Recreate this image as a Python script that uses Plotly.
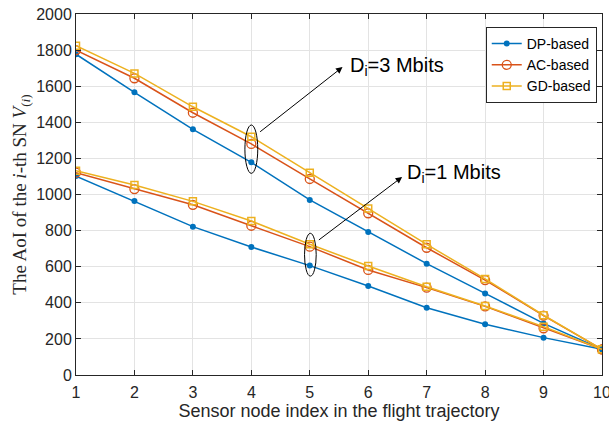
import plotly.graph_objects as go

nodes = [1, 2, 3, 4, 5, 6, 7, 8, 9, 10]

dp_3m = [1777, 1566, 1361, 1178, 970, 792, 617, 452, 286, 142]
ac_3m = [1800, 1644, 1453, 1280, 1086, 896, 705, 526, 329, 142]
gd_3m = [1824, 1671, 1486, 1320, 1121, 923, 724, 532, 331, 142]

dp_1m = [1102, 964, 822, 709, 606, 493, 373, 281, 207, 142]
ac_1m = [1121, 1030, 943, 827, 711, 582, 484, 380, 259, 142]
gd_1m = [1132, 1053, 962, 853, 724, 604, 489, 382, 268, 142]

series_names = ["DP-based", "AC-based", "GD-based"]
colors = ["#0072BD", "#D95319", "#EDB120"]
x_ticks = list(range(1, 11))
y_ticks = list(range(0, 2001, 200))

markers = [
    dict(symbol="circle", size=6, color=colors[0], line=dict(width=0)),
    dict(symbol="circle-open", size=9, color=colors[1], line=dict(width=1.3)),
    dict(symbol="square-open", size=7, color=colors[2], line=dict(width=1.5)),
]

fig = go.Figure()
groups = [(dp_3m, ac_3m, gd_3m), (dp_1m, ac_1m, gd_1m)]
for gi, grp in enumerate(groups):
    for si, vals in enumerate(grp):
        fig.add_trace(go.Scatter(
            x=nodes, y=vals, mode="lines+markers",
            name=series_names[si], legendgroup=series_names[si],
            showlegend=(gi == 0),
            line=dict(color=colors[si], width=1.5),
            marker=markers[si],
        ))

# ellipses
fig.add_shape(type="circle", xref="x", yref="y", x0=3.89, x1=4.11, y0=1117, y1=1385,
              line=dict(color="black", width=1))
fig.add_shape(type="circle", xref="x", yref="y", x0=4.91, x1=5.11, y0=548, y1=785,
              line=dict(color="black", width=1))

# arrows
fig.add_annotation(x=5.56, y=1706, ax=4.125, ay=1341, xref="x", yref="y", axref="x", ayref="y",
                   text="", showarrow=True, arrowhead=2, arrowsize=1.3, arrowwidth=1, arrowcolor="black")
fig.add_annotation(x=6.58, y=1097, ax=5.13, ay=742, xref="x", yref="y", axref="x", ayref="y",
                   text="", showarrow=True, arrowhead=2, arrowsize=1.3, arrowwidth=1, arrowcolor="black")
fig.add_annotation(x=5.66, y=1710, xref="x", yref="y", text="D<sub>i</sub>=3 Mbits", showarrow=False,
                   xanchor="left", yanchor="middle",
                   font=dict(family="Liberation Sans, Arial", size=20, color="black"))
fig.add_annotation(x=6.63, y=1118, xref="x", yref="y", text="D<sub>i</sub>=1 Mbits", showarrow=False,
                   xanchor="left", yanchor="middle",
                   font=dict(family="Liberation Sans, Arial", size=20, color="black"))

axis_common = dict(
    showline=True, linecolor="#262626", linewidth=1, mirror="ticks",
    ticks="inside", ticklen=5, tickcolor="#262626",
    showgrid=True, gridcolor="#E3E3E3", gridwidth=1, zeroline=False,
    ticklabeloverflow="allow",
    tickfont=dict(family="Liberation Sans, Arial", size=16, color="#262626"),
)

fig.update_xaxes(range=[1, 10], tickvals=x_ticks, automargin=False, ticklabelstandoff=3,
                 title=dict(text="Sensor node index in the flight trajectory",
                            font=dict(family="Liberation Sans, Arial", size=18, color="#262626"),
                            standoff=2),
                 **axis_common)
fig.update_yaxes(range=[0, 2000], tickvals=y_ticks, automargin=False,
                 title=dict(text="The AoI of the <i>i</i>-th SN <i>V</i><sub>(<i>i</i>)</sub>",
                            font=dict(family="Liberation Serif, Times New Roman", size=19, color="#262626"),
                            standoff=4),
                 **axis_common)

fig.update_layout(
    width=609, height=425,
    margin=dict(l=76, r=7, t=14, b=50),
    plot_bgcolor="white", paper_bgcolor="white",
    legend=dict(x=0.99, y=0.964, xanchor="right", yanchor="top",
                bgcolor="white", bordercolor="#262626", borderwidth=1,
                font=dict(family="Liberation Sans, Arial", size=14, color="black"),
                tracegroupgap=0, itemwidth=30),
)

fig.write_html("out.html")
